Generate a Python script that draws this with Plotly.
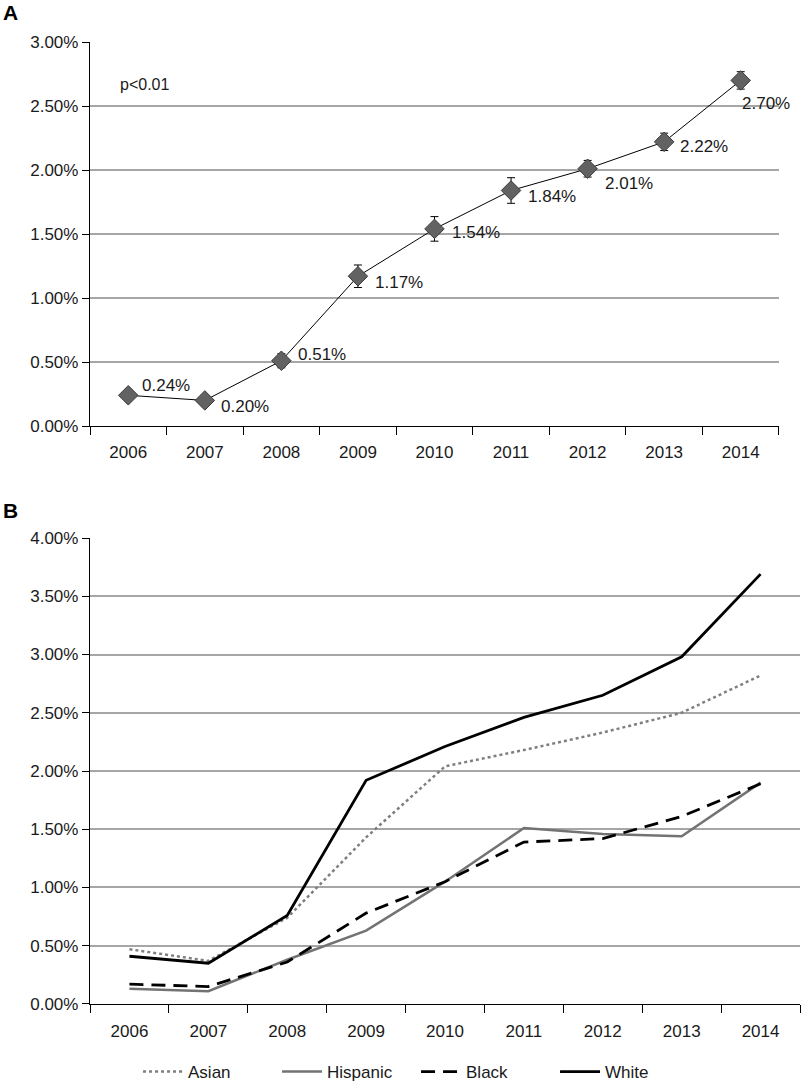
import plotly.graph_objects as go

years = ["2006", "2007", "2008", "2009", "2010", "2011", "2012", "2013", "2014"]

# Panel A: overall rate (%) with error (±%)
overall = [0.24, 0.20, 0.51, 1.17, 1.54, 1.84, 2.01, 2.22, 2.70]
overall_err = [0.02, 0.02, 0.055, 0.088, 0.096, 0.10, 0.065, 0.068, 0.068]
overall_labels = ["0.24%", "0.20%", "0.51%", "1.17%", "1.54%", "1.84%", "2.01%", "2.22%", "2.70%"]
ticks_a = [0, 0.5, 1.0, 1.5, 2.0, 2.5, 3.0]
ticks_a_text = ["0.00%", "0.50%", "1.00%", "1.50%", "2.00%", "2.50%", "3.00%"]

# Panel B: by race/ethnicity (%)
asian = [0.47, 0.37, 0.74, 1.43, 2.04, 2.18, 2.33, 2.50, 2.82]
hispanic = [0.13, 0.11, 0.38, 0.63, 1.05, 1.51, 1.46, 1.44, 1.90]
black = [0.17, 0.15, 0.36, 0.78, 1.05, 1.39, 1.42, 1.61, 1.89]
white = [0.41, 0.35, 0.76, 1.92, 2.21, 2.46, 2.65, 2.98, 3.69]
ticks_b = [0, 0.5, 1.0, 1.5, 2.0, 2.5, 3.0, 3.5, 4.0]
ticks_b_text = ["0.00%", "0.50%", "1.00%", "1.50%", "2.00%", "2.50%", "3.00%", "3.50%", "4.00%"]

# label offsets (pixels) for panel A labels: (xshift, yshift)
label_offsets = [(12, 10), (14, -6), (15, 6), (15, -6), (16, -4), (15, -6), (15, -15), (14, -5), (-1, -23)]

FONT = "Liberation Sans, Arial, sans-serif"
TXT = "#1a1a1a"
GRID = "#a6a6a6"

fig = go.Figure()

fig.add_trace(go.Scatter(
    x=years, y=overall, mode="lines+markers",
    line=dict(color="black", width=1),
    marker=dict(symbol="diamond", size=15, color="#626262", line=dict(color="#3a3a3a", width=1)),
    error_y=dict(type="data", array=overall_err, visible=True, color="black", thickness=1, width=4),
    xaxis="x", yaxis="y", showlegend=False,
))

fig.add_trace(go.Scatter(x=years, y=asian, mode="lines", name="Asian",
                         line=dict(color="#7f7f7f", width=2.5, dash="dot"), xaxis="x2", yaxis="y2"))
fig.add_trace(go.Scatter(x=years, y=hispanic, mode="lines", name="Hispanic",
                         line=dict(color="#737373", width=2.5), xaxis="x2", yaxis="y2"))
fig.add_trace(go.Scatter(x=years, y=black, mode="lines", name="Black",
                         line=dict(color="black", width=2.8, dash="14px,8px"), xaxis="x2", yaxis="y2"))
fig.add_trace(go.Scatter(x=years, y=white, mode="lines", name="White",
                         line=dict(color="black", width=2.8), xaxis="x2", yaxis="y2"))

annotations = []
for i, (v, lab, (dx, dy)) in enumerate(zip(overall, overall_labels, label_offsets)):
    annotations.append(dict(x=i, y=v, xref="x", yref="y", text=lab, showarrow=False,
                            xanchor="left", yanchor="middle", xshift=dx, yshift=dy,
                            font=dict(size=17, color=TXT, family=FONT)))
annotations.append(dict(x=0.0394, y=0.9563, xref="paper", yref="paper", text="p<0.01", showarrow=False,
                        xanchor="left", yanchor="middle", font=dict(size=16, color=TXT, family=FONT)))
annotations.append(dict(x=-0.126, y=1.031, xref="paper", yref="paper", text="<b>A</b>", showarrow=False,
                        xanchor="left", yanchor="middle", font=dict(size=21, color="black", family=FONT)))
annotations.append(dict(x=-0.126, y=0.5135, xref="paper", yref="paper", text="<b>B</b>", showarrow=False,
                        xanchor="left", yanchor="middle", font=dict(size=21, color="black", family=FONT)))

common = dict(showline=True, linecolor="black", linewidth=1.3, ticks="outside",
              tickcolor="black", tickwidth=1.3, automargin=False,
              tickfont=dict(size=17, color=TXT, family=FONT), zeroline=False)

fig.update_layout(
    width=803, height=1082,
    margin=dict(l=90, r=3, t=42, b=78, autoexpand=False),
    paper_bgcolor="white", plot_bgcolor="white",
    font=dict(family=FONT, color=TXT),
    xaxis=dict(domain=[0, 0.9704], anchor="y", type="category", tickson="boundaries",
               range=[-0.5, 8.5], showgrid=False, ticklen=8, ticklabelstandoff=10, **common),
    yaxis=dict(domain=[0.6008, 1.0], anchor="x", range=[0, 3.0], tickvals=ticks_a, ticktext=ticks_a_text,
               showgrid=True, gridcolor=GRID, gridwidth=1.5, ticklen=7, **common),
    xaxis2=dict(domain=[0, 1.0], anchor="y2", type="category", tickson="boundaries",
                range=[-0.5, 8.5], showgrid=False, ticklen=8, ticklabelstandoff=11, **common),
    yaxis2=dict(domain=[0, 0.4844], anchor="x2", range=[0, 4.0], tickvals=ticks_b, ticktext=ticks_b_text,
                showgrid=True, gridcolor=GRID, gridwidth=1.5, ticklen=7, **common),
    legend=dict(orientation="h", x=0.4592, xanchor="center", y=-0.0707, yanchor="middle",
                font=dict(size=17, color=TXT, family=FONT), itemwidth=40, entrywidth=84,
                bgcolor="rgba(0,0,0,0)"),
    annotations=annotations,
)

post = (
    "document.documentElement.style.margin='0';"
    "document.documentElement.style.overflow='hidden';"
    "document.body.style.margin='0';"
    "document.body.style.overflow='hidden';"
)

fig.write_html("out.html", config={"displayModeBar": False}, post_script=post)
